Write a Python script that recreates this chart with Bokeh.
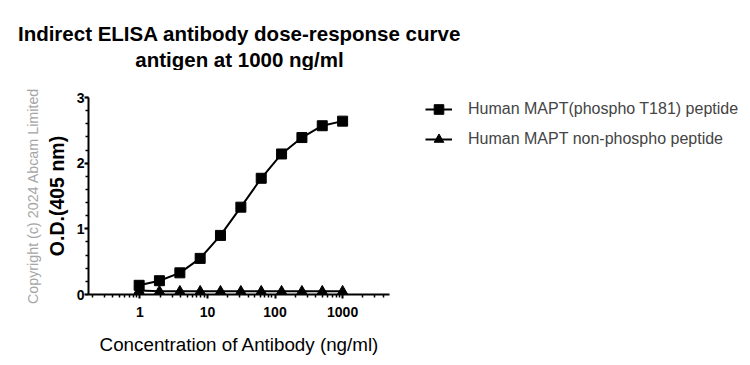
import math
from bokeh.plotting import figure
from bokeh.layouts import column, row
from bokeh.models import (Range1d, FixedTicker, BasicTickFormatter, Legend, LegendItem,
                          LinearAxis, Label)
from bokeh.embed import file_html
from bokeh.resources import INLINE

# Data
concentration = [0.977, 1.95, 3.91, 7.81, 15.6, 31.25, 62.5, 125, 250, 500, 1000]
phospho_od = [0.14, 0.21, 0.33, 0.55, 0.90, 1.33, 1.77, 2.14, 2.39, 2.57, 2.64]
nonphospho_od = [0.06, 0.05, 0.05, 0.05, 0.05, 0.05, 0.05, 0.05, 0.05, 0.05, 0.05]
x_ticks = [1, 10, 100, 1000]
y_ticks = [0, 1, 2, 3]
x_axis_min, x_axis_max = 0.174, 4940
series_names = ["Human MAPT(phospho T181) peptide", "Human MAPT non-phospho peptide"]
title_lines = ["Indirect ELISA antibody dose-response curve", "antigen at 1000 ng/ml"]
x_label = "Concentration of Antibody (ng/ml)"
y_label = "O.D.(405 nm)"
copyright_text = "Copyright (c) 2024 Abcam Limited"

FONT = "Liberation Sans"
W, H = 742, 357
TOP_H = 70                      # title strip
FRAME_L, FRAME_T, FRAME_B = 88, 97, 294
AXIS_END = 389                  # where the x axis line stops (page px)
MAIN_BOTTOM = 322               # bottom of the chart figure
BOT_H = H - MAIN_BOTTOM         # x-label strip
TEXT_CX = 239                   # centre of the chart frame


def strip(height):
    f = figure(width=W, height=height, output_backend="svg", toolbar_location=None,
               x_axis_location=None, y_axis_location=None,
               x_range=Range1d(0, 1), y_range=Range1d(0, 1),
               min_border=0, min_border_left=0, min_border_right=0,
               min_border_top=0, min_border_bottom=0)
    f.outline_line_color = None
    f.xgrid.visible = False
    f.ygrid.visible = False
    return f


# ---- title strip
top = strip(TOP_H)
for line, base in zip(title_lines, [33, 59]):
    top.add_layout(Label(x=TEXT_CX, y=TOP_H - base, x_units="screen", y_units="screen",
                         text=line, text_align="center", text_baseline="alphabetic",
                         text_font=FONT, text_font_style="bold", text_font_size="20.5px",
                         text_color="black"))

# ---- main chart: the frame runs to the right edge so the legend sits inside it;
# the x axis line itself is bounded to the reference's extent.
frame_w = W - FRAME_L
px_per_decade = (AXIS_END - FRAME_L) / (math.log10(x_axis_max) - math.log10(x_axis_min))
x_end = 10 ** (math.log10(x_axis_min) + frame_w / px_per_decade)

p = figure(width=W, height=MAIN_BOTTOM - TOP_H, x_axis_type="log", output_backend="svg",
           toolbar_location=None, x_range=Range1d(x_axis_min, x_end), y_range=Range1d(0, 3),
           min_border_left=FRAME_L, min_border_top=FRAME_T - TOP_H,
           min_border_bottom=MAIN_BOTTOM - FRAME_B, min_border_right=0)
p.outline_line_color = None
p.xgrid.visible = False
p.ygrid.visible = False

minor_x = [m * 10 ** e for e in range(-1, 4) for m in range(2, 10)
           if x_axis_min <= m * 10 ** e <= x_axis_max]
p.xaxis.ticker = FixedTicker(ticks=x_ticks, minor_ticks=minor_x)
p.xaxis.formatter = BasicTickFormatter()
p.xaxis.bounds = (x_axis_min, x_axis_max)
p.yaxis.ticker = FixedTicker(ticks=y_ticks, minor_ticks=[i * 0.2 for i in range(16)])

for ax in (p.xaxis, p.yaxis):
    ax.axis_line_width = 2
    ax.axis_line_color = "black"
    ax.major_tick_line_width = 2
    ax.minor_tick_line_width = 1.5
    ax.major_tick_out = 4
    ax.major_tick_in = 0
    ax.minor_tick_out = 3
    ax.minor_tick_in = 0
    ax.major_label_text_font = FONT
    ax.major_label_text_font_style = "bold"
    ax.major_label_text_font_size = "14px"
    ax.major_label_text_color = "black"
    ax.axis_label_text_color = "black"
    ax.axis_label_text_font = FONT
p.xaxis.major_label_standoff = 8
p.yaxis.major_label_standoff = 0

p.yaxis.axis_label = y_label
p.yaxis.axis_label_text_font_style = "bold"
p.yaxis.axis_label_text_font_size = "19.5px"
p.yaxis.axis_label_standoff = 6

copy_axis = LinearAxis(axis_label=copyright_text, ticker=FixedTicker(ticks=[]),
                       axis_line_color=None, major_tick_out=0, minor_tick_out=0,
                       major_tick_in=0, minor_tick_in=0, major_label_text_font_size="0px",
                       axis_label_text_font=FONT, axis_label_text_font_size="14.3px",
                       axis_label_text_font_style="normal", axis_label_text_color="#a6a6a6",
                       axis_label_standoff=2)
p.add_layout(copy_axis, "left")

r1l = p.line(concentration, phospho_od, line_width=2, color="black")
r1s = p.scatter(concentration, phospho_od, marker="square", size=10, color="black")
r2l = p.line(concentration, nonphospho_od, line_width=2, color="black")
r2s = p.scatter(concentration, nonphospho_od, marker="triangle", size=10, color="black")

legend = Legend(items=[LegendItem(label=series_names[0], renderers=[r1l, r1s]),
                       LegendItem(label=series_names[1], renderers=[r2l, r2s])],
                location=(425 - FRAME_L, FRAME_B - (FRAME_T + 54)),
                glyph_width=27, glyph_height=24, label_standoff=16,
                spacing=6, padding=0, margin=0, border_line_color=None,
                background_fill_alpha=0, label_text_font=FONT, label_text_font_size="16px")
p.add_layout(legend, "center")

# ---- x-axis title strip
bot = strip(BOT_H)
bot.add_layout(Label(x=TEXT_CX, y=H - 344, x_units="screen", y_units="screen", text=x_label,
                     text_align="center", text_baseline="alphabetic", text_font=FONT,
                     text_font_size="18.8px", text_color="black"))

# the chart is wrapped in a row so that the strips' frames are not aligned to it
layout = column(top, row(p, spacing=0), bot, spacing=0)
open("out.html", "w").write(file_html(layout, INLINE))
